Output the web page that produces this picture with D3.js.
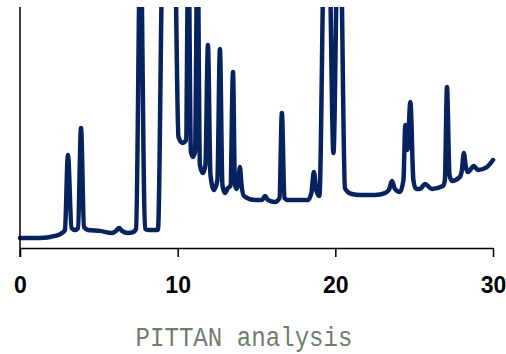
<!DOCTYPE html>
<html>
<head>
<meta charset="utf-8">
<script src="https://cdn.jsdelivr.net/npm/d3@7"></script>
<style>
  html, body { margin: 0; padding: 0; background: #fff; }
  svg { display: block; }
</style>
</head>
<body>
<svg id="chart" width="506" height="354"></svg>
<script>
// retention time (min) and detector response
const retention = [
  0, 1.27, 2.22, 2.66, 2.85, 3.04, 3.27, 3.49, 3.68, 3.87, 4.06, 4.31, 5.07, 5.83, 6.09, 6.28, 6.47, 6.85, 7.17,
  7.36, 7.64, 7.93, 8.12, 8.75, 9.07, 9.38, 9.80, 10.05, 10.30, 10.53, 10.68, 10.84, 10.97, 11.10, 11.26,
  11.41, 11.60, 11.76, 11.92, 12.08, 12.30, 12.52, 12.68, 12.84, 13.00, 13.19, 13.35, 13.51, 13.63, 13.73,
  13.86, 13.95, 14.05, 14.20, 14.90, 15.35, 15.54, 15.73, 16.17, 16.46, 16.61, 16.77, 16.99, 17.75, 18.26,
  18.48, 18.64, 18.80, 18.99, 19.31, 19.59, 19.88, 20.16, 20.32, 20.61, 20.80, 21.05, 21.56, 22.51, 23.15,
  23.40, 23.59, 23.78, 24.10, 24.32, 24.44, 24.57, 24.76, 24.95, 25.11, 25.37, 25.68, 26.13, 26.82, 26.95,
  27.08, 27.24, 27.40, 27.90, 28.03, 28.15, 28.28, 28.41, 28.79, 29.04, 29.61, 30.00
];
const response = [
  4.1, 4.1, 5.0, 6.2, 7.5, 38.6, 8.3, 7.5, 8.3, 49.8, 8.7, 7.5, 7.1, 6.2, 7.1, 8.3, 7.1, 6.2, 6.6,
  7.9, 130, 7.9, 7.5, 7.5, 130, 130, 130, 46.1, 43.6, 44.8, 130, 39.8, 37.8, 39.8, 130,
  34.4, 31.1, 34.4, 84.2, 30.3, 24.1, 28.2, 82.6, 26.1, 22.8, 24.9, 25.7, 73.0, 26.6, 24.5,
  28.2, 33.6, 26.1, 21.6, 19.9, 19.9, 21.6, 19.9, 19.1, 20.7, 56.0, 20.7, 19.9, 19.9, 19.9,
  22.8, 31.5, 23.7, 21.6, 130, 130, 39.4, 130, 130, 24.9, 23.2, 22.4, 22.0, 22.0, 22.8,
  24.1, 27.8, 24.5, 23.2, 28.2, 51.0, 40.7, 60.6, 28.2, 24.5, 24.5, 26.6, 24.5, 25.7, 28.2,
  66.8, 30.3, 27.8, 29.5, 32.4, 39.4, 33.6, 31.5, 34.0, 32.4, 33.6, 36.5
];
const xTicks = [0, 10, 20, 30];
const title = "PITTAN analysis";

const svg = d3.select("#chart");
const plotLeft = 20, plotRight = 493, plotTop = 7, plotBottom = 248;

const x = d3.scaleLinear().domain([0, 30]).range([plotLeft, plotRight]);
const y = d3.scaleLinear().domain([0, 100]).range([plotBottom, plotTop]);

const data = retention.map((t, i) => ({ t: t, v: response[i] }));

svg.append("clipPath").attr("id", "plot")
  .append("rect")
  .attr("x", plotLeft - 5).attr("y", plotTop)
  .attr("width", plotRight - plotLeft + 12).attr("height", plotBottom - plotTop + 5);

// trace
const line = d3.line()
  .x(d => x(d.t))
  .y(d => y(d.v))
  .curve(d3.curveMonotoneX);

svg.append("path")
  .datum(data)
  .attr("clip-path", "url(#plot)")
  .attr("d", line)
  .attr("fill", "none")
  .attr("stroke", "#07235f")
  .attr("stroke-width", 4.5)
  .attr("stroke-linejoin", "round")
  .attr("stroke-linecap", "round");

// x axis
const xAxis = svg.append("g")
  .attr("transform", "translate(0," + plotBottom + ")")
  .call(d3.axisBottom(x).tickValues(xTicks).tickSize(9).tickSizeOuter(0).tickPadding(20));
xAxis.select(".domain").attr("stroke", "#000").attr("stroke-width", 1.5);
xAxis.selectAll(".tick line").attr("stroke", "#000").attr("stroke-width", 1.5);
xAxis.selectAll("text")
  .attr("fill", "#000")
  .style("font-family", "'Liberation Sans', Arial, sans-serif")
  .style("font-weight", "bold")
  .style("font-size", "23px");

// y axis, no labels
svg.append("line")
  .attr("x1", plotLeft).attr("x2", plotLeft)
  .attr("y1", plotTop).attr("y2", plotBottom + 9)
  .attr("stroke", "#000").attr("stroke-width", 1.5);

// caption
svg.append("text")
  .attr("x", 244)
  .attr("y", 346)
  .attr("text-anchor", "middle")
  .attr("textLength", 217)
  .attr("lengthAdjust", "spacingAndGlyphs")
  .attr("fill", "#6e7f6e")
  .style("font-family", "'Liberation Mono', 'DejaVu Sans Mono', monospace")
  .style("font-size", "27px")
  .text(title);
</script>
</body>
</html>
